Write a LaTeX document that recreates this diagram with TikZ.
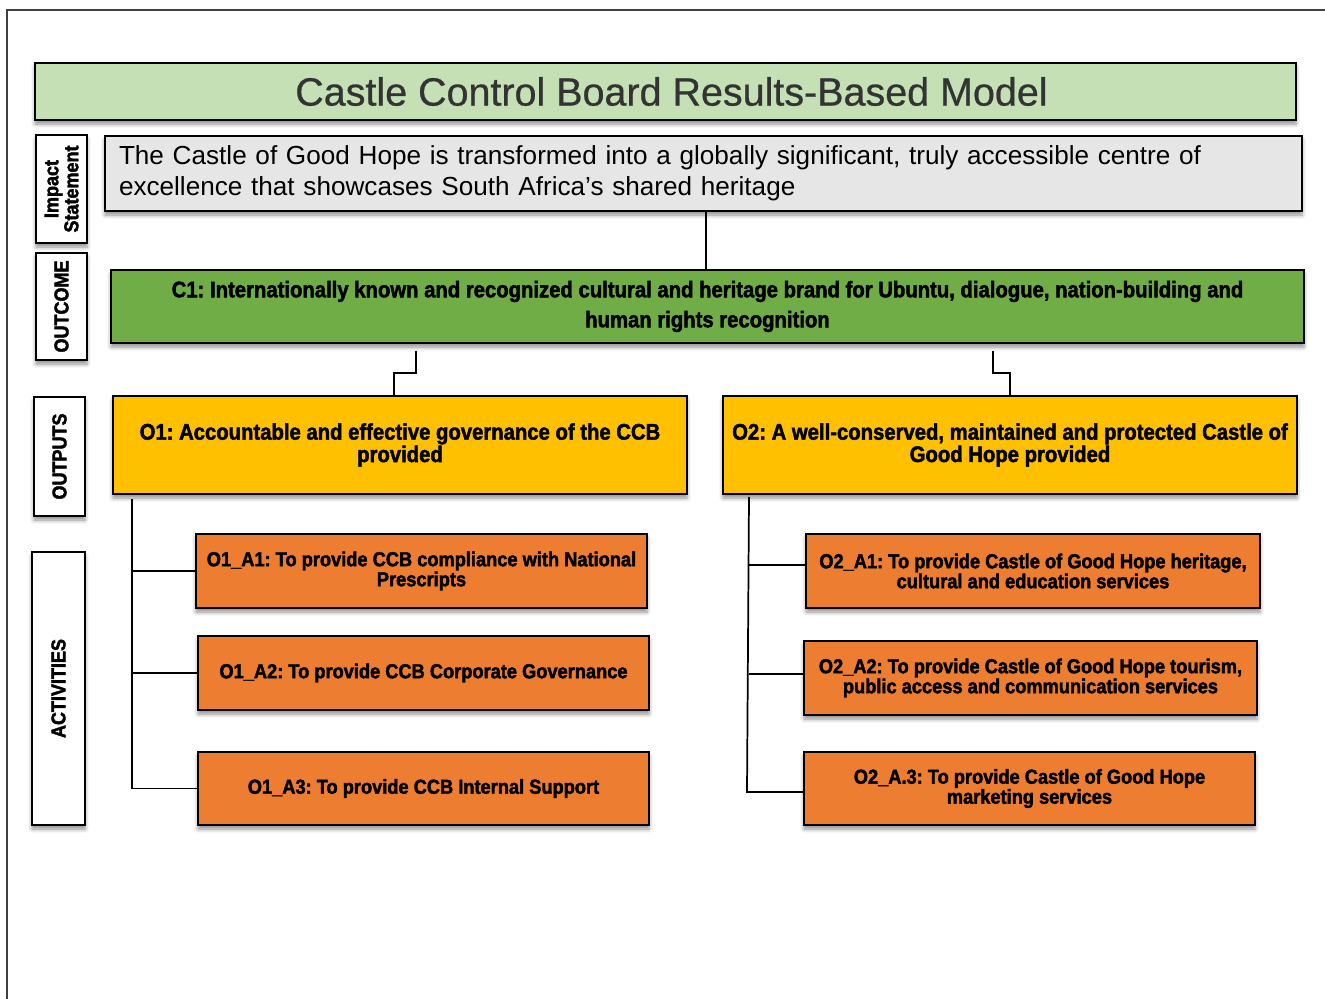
\documentclass[tikz,border=0pt]{standalone}
\usepackage{fontspec}
\setmainfont{Liberation Sans}
\newfontfamily\heavy[FakeStretch=0.9,FakeBold=2]{Liberation Sans}
\newfontfamily\titlefont[FakeBold=0.6]{Liberation Sans}
\usetikzlibrary{shadows.blur}
\definecolor{titlegreen}{HTML}{C5E0B4}
\definecolor{titlegray}{HTML}{333333}
\definecolor{impactgray}{HTML}{E7E6E6}
\definecolor{outgreen}{HTML}{70AD47}
\definecolor{outyellow}{HTML}{FFC000}
\definecolor{actorange}{HTML}{ED7D31}
\frenchspacing
\begin{document}
\begin{tikzpicture}[x=0.75pt,y=-0.75pt,
  wh/.style 2 args={minimum width=#1*0.75pt, minimum height=#2*0.75pt},
  box/.style={draw=black, line width=1.5pt, inner sep=0pt,
    blur shadow={shadow xshift=0pt, shadow yshift=-3pt, shadow blur radius=3pt, shadow opacity=45}},
  lab/.style={box, fill=white},
  labtext/.style={rotate=90, align=center, inner sep=0pt, font=\heavy\bfseries\fontsize{15}{15}\selectfont},
  outbox/.style={box, fill=outyellow, align=center, font=\heavy\bfseries\fontsize{16.9}{15}\selectfont},
  actbox/.style={box, fill=actorange, align=center, font=\heavy\bfseries\fontsize{15.2}{15}\selectfont},
  conn/.style={draw=black, line width=1.3pt}]
\useasboundingbox (0,0) rectangle (1325,999);
\draw[line width=0.8pt, black!75] (7,999) -- (7,10) -- (1325,10);

% title
\node[box, fill=titlegreen, wh={1261}{57}, text=titlegray,
  font=\titlefont\fontsize{29.6}{34}\selectfont] (title) at (665.5,91.5)
  {\hspace*{9pt}Castle Control Board Results-Based Model};

% row labels
\node[lab, wh={51}{108}] (limpact) at (61.5,189) {};
\node[labtext] (timpact) at (limpact) {Impact\\Statement};
\node[lab, wh={51}{107}] (loutcome) at (61.5,306.5) {};
\node[labtext] (toutcome) at (loutcome) {OUTCOME};
\node[lab, wh={51}{119}] (loutputs) at (59.5,456.5) {};
\node[labtext] (toutputs) at (loutputs) {OUTPUTS};
\node[lab, wh={53}{273}] (lact) at (58.5,688.5) {};
\node[labtext] (tact) at (lact) {ACTIVITIES};

% impact
\node[box, fill=impactgray, wh={1197}{75}, text width=1169*0.75pt, align=left,
  font=\fontsize{19.6}{23.5}\selectfont] (impact) at (703.5,173.5)
  {The Castle of Good Hope is transformed into a globally significant, truly accessible centre of\\excellence that showcases South Africa’s shared heritage};

% outcome
\node[box, fill=outgreen, wh={1193}{73}, align=center,
  font=\heavy\bfseries\fontsize{16.9}{22.5}\selectfont] (c1) at (707.5,306.5)
  {C1: Internationally known and recognized cultural and heritage brand for Ubuntu, dialogue, nation-building and\\human rights recognition};

% outputs
\node[outbox, wh={574}{98}] (o1) at (400,445)
  {O1: Accountable and effective governance of the CCB\\provided};
\node[outbox, wh={574}{98}] (o2) at (1010,445)
  {O2: A well-conserved, maintained and protected Castle of\\Good Hope provided};

% activities
\node[actbox, wh={451}{74}] (a11) at (421.5,571)
  {O1\_A1: To provide CCB compliance with National\\Prescripts};
\node[actbox, wh={451}{74}] (a12) at (423.5,673)
  {O1\_A2: To provide CCB Corporate Governance};
\node[actbox, wh={451}{73}] (a13) at (423.5,788.5)
  {O1\_A3: To provide CCB Internal Support};
\node[actbox, wh={454}{74}] (a21) at (1033,571)
  {O2\_A1: To provide Castle of Good Hope heritage,\\cultural and education services};
\node[actbox, wh={453}{74}] (a22) at (1030.5,678)
  {O2\_A2: To provide Castle of Good Hope tourism,\\public access and communication services};
\node[actbox, wh={451}{73}] (a23) at (1029.5,788.5)
  {O2\_A.3: To provide Castle of Good Hope\\marketing services};

% connectors
\draw[conn] (impact.south -| 706,0) -- (c1.north -| 706,0);
\coordinate (j1) at (416,373);
\coordinate (k1) at (394,373);
\coordinate (j2) at (993,373);
\coordinate (k2) at (1010,373);
\draw[conn] ([yshift=-5pt]c1.south -| j1) -- (j1) -- (k1) -- (o1.north -| k1);
\draw[conn] ([yshift=-5pt]c1.south -| j2) -- (j2) -- (k2) -- (o2.north -| k2);

\coordinate (s1) at (132,499);
\draw[conn] (s1) |- (a13.west);
\draw[conn] (a11.west) -- (a11.west -| s1);
\draw[conn] (a12.west) -- (a12.west -| s1);
\coordinate (s2) at (749,497);
\coordinate (h21) at (749,565);
\coordinate (h22) at (749,674);
\coordinate (h23) at (747,792);
\draw[conn] (s2) -- (h23) -- (h23 -| a23.west);
\draw[conn] (h21) -- (h21 -| a21.west);
\draw[conn] (h22) -- (h22 -| a22.west);
\end{tikzpicture}
\end{document}
